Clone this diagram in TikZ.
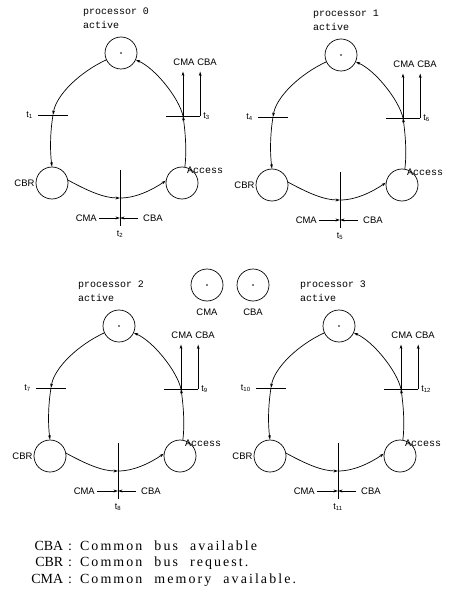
\documentclass[tikz,border=0pt]{standalone}
\usepackage{fontspec}
\setmainfont{Liberation Serif}
\newfontfamily\lblfont{Liberation Sans}
\newfontfamily\typfont{Liberation Mono}
\newfontfamily\legfont[LetterSpace=15]{Liberation Serif}
\usetikzlibrary{arrows.meta}
\tikzset{
  place/.style={circle, draw, line width=0.7bp, minimum size=32bp, inner sep=0pt},
  arc/.style={line width=0.7bp, -{Stealth[length=4.5bp,width=2.8bp]}},
  hbar/.style={rectangle, fill=black, minimum width=30bp, minimum height=0.9bp, inner sep=0pt},
  vbar/.style={rectangle, fill=black, minimum width=0.9bp, minimum height=56bp, inner sep=0pt},
  sml/.style={font=\lblfont\fontsize{9.5}{10}\selectfont, inner sep=1bp},
  tlab/.style={font=\lblfont\fontsize{9}{10}\selectfont, inner sep=0pt},
  typ/.style={font=\typfont\fontsize{10}{11}\selectfont, inner sep=0pt},
  leg/.style={font=\fontsize{14}{16}\selectfont, inner sep=0pt, anchor=west}
}
\newcommand\wsp{\hspace{12bp}}
% #1 prefix, #2 dx, #3 dy, #4 processor, #5 left t, #6 bottom t, #7 right t, #8 label x
\newcommand\petripanel[8]{%
\begin{scope}[shift={(#2,#3)}]
  \node[typ, anchor=west] (#1pl) at (#8,12) {processor #4};
  \node[typ, anchor=west] (#1al) at (#8,25) {active};
  \node[place] (#1P) at (121,53) {};
  \fill (#1P.center) circle (0.9bp);
  \node[place] (#1B) at (52,183) {};
  \node[place] (#1A) at (182,183) {};
  \node[sml, anchor=east] (#1Bl) at (#1B.west) {CBR};
  \node[typ, anchor=west] (#1Al) at (187,170) {Access};
  % transitions
  \node[hbar] (#1tl) at (53,115) {};
  \node[tlab, anchor=east] (#1tll) at ([xshift=-5bp]#1tl.west) {t\textsubscript{#5}};
  \node[hbar, minimum width=34bp] (#1tr) at (183,116) {};
  \node[tlab, anchor=west] (#1trl) at ([xshift=3bp]#1tr.east) {t\textsubscript{#7}};
  \node[vbar] (#1tb) at (120,198) {};
  \node[tlab, anchor=north] (#1tbl) at ([yshift=-4bp]#1tb.south) {t\textsubscript{#6}};
  % CMA / CBA labels
  \node[sml] (#1cu) at (184,62) {CMA};
  \node[sml] (#1bu) at (207,62) {CBA};
  \node[sml, anchor=east] (#1cd) at (98,218) {CMA};
  \node[sml, anchor=west] (#1bd) at (142,218) {CBA};
  \draw[arc, shorten >=5bp] (#1tr.center) -- (#1tr.center |- #1cu.south);
  \draw[arc, shorten >=5bp] (#1tr.east) -- (#1tr.east |- #1bu.south);
  \draw[arc, shorten <=1bp] (#1cd.east) -- (#1cd.east -| #1tb.center);
  \draw[arc, shorten <=4bp] (#1bd.west) -- (#1bd.west -| #1tb.center);
  % main arcs
  \draw[arc] (#1P.205) .. controls (80,72) and (56,95) .. (#1tl.center);
  \draw[arc] (#1tl.center) .. controls (50,133) and (50,152) .. (#1B.north);
  \draw[arc] (#1B.10) .. controls (88,191) and (104,198) .. (#1tb.center);
  \draw[arc] (#1tb.center) .. controls (136,198) and (152,190) .. (#1A.172);
  \draw[arc] (#1A.80) .. controls (187,150) and (185,130) .. (#1tr.center);
  \draw[arc] (#1tr.center) .. controls (179,98) and (155,68) .. (#1P.-25);
\end{scope}}
\begin{document}
\begin{tikzpicture}[x=1bp, y=-1bp]
  \useasboundingbox[fill=white] (0,0) rectangle (460,599);
  \petripanel{pa}{0}{0}{0}{1}{2}{3}{83}
  \petripanel{pb}{220}{2}{1}{4}{5}{6}{93}
  \petripanel{pc}{-2}{273}{2}{7}{8}{9}{80}
  \petripanel{pd}{218}{273}{3}{10}{11}{12}{82}
  % shared places
  \node[place] (cmaP) at (207,285) {};
  \fill (cmaP.center) circle (0.9bp);
  \node[sml, anchor=north] (cmaL) at ([yshift=-6bp]cmaP.south) {CMA};
  \node[place] (cbaP) at (253,285) {};
  \fill (cbaP.center) circle (0.9bp);
  \node[sml, anchor=north] (cbaL) at ([yshift=-6bp]cbaP.south) {CBA};
  % legend
  \node[leg] (leg1) at (30,546) {\makebox[33bp][r]{CBA}\hspace{5bp}:\hspace{8bp}{\legfont Common\wsp bus\wsp available}};
  \node[leg] (leg2) at (30,563) {\makebox[33bp][r]{CBR}\hspace{5bp}:\hspace{8bp}{\legfont Common\wsp bus\wsp request.}};
  \node[leg] (leg3) at (30,580) {\makebox[33bp][r]{CMA}\hspace{5bp}:\hspace{8bp}{\legfont Common\wsp memory\wsp available.}};
\end{tikzpicture}
\end{document}
